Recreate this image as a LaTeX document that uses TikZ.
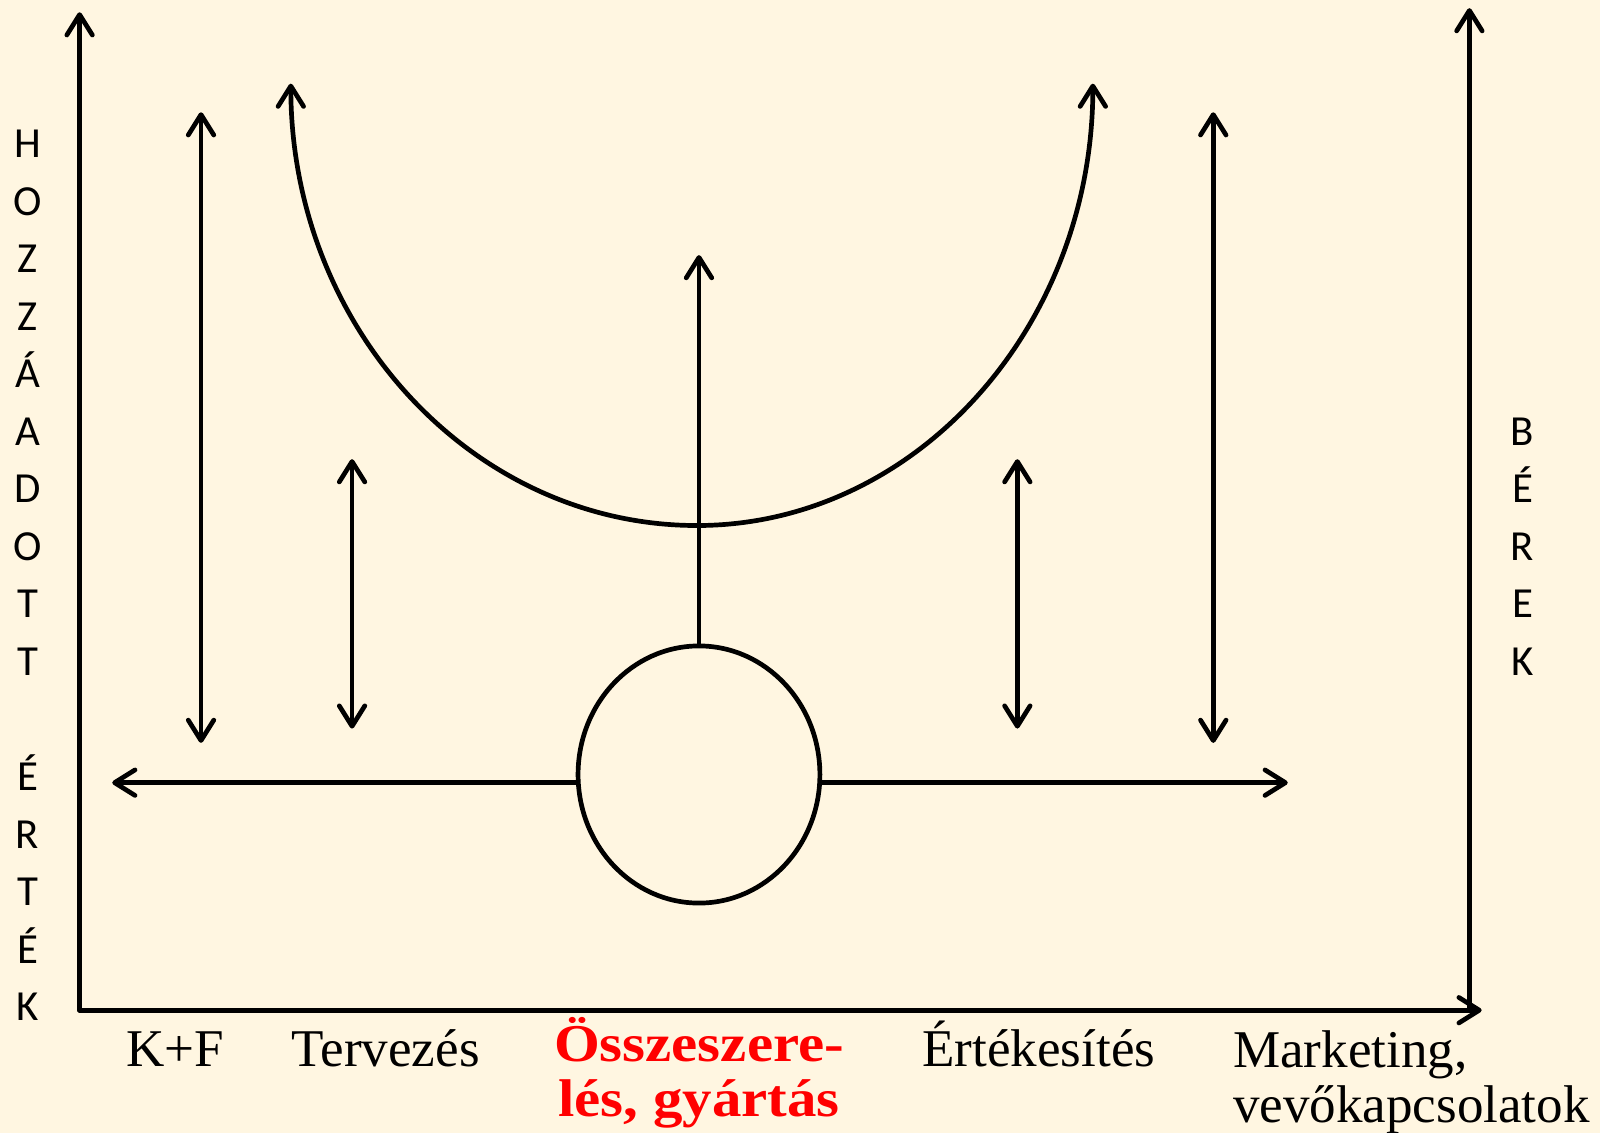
\documentclass[tikz,border=0pt]{standalone}
\usepackage{fontspec}
\setmainfont{Liberation Serif}
\newfontfamily\sidefont{Carlito}
\newfontfamily\widebold{Liberation Serif}[FakeStretch=1.11]
\usetikzlibrary{arrows.meta,shapes.geometric}
\definecolor{papercream}{RGB}{255,246,225}
\definecolor{stagered}{RGB}{255,0,0}
\tikzset{
  barbtip/.style={line width=2.3pt,line cap=round},
  oneway/.style={barbtip,-{Straight Barb[length=10pt,width=12.5pt,round]}},
  twoway/.style={barbtip,{Straight Barb[length=10pt,width=12.5pt,round]}-{Straight Barb[length=10pt,width=12.5pt,round]}},
  sidelabel/.style={font=\sidefont\fontsize{21}{28.2}\selectfont,align=center,inner sep=0pt,anchor=north},
  stagelabel/.style={font=\fontsize{26}{27}\selectfont,inner sep=0pt,anchor=base},
  hub/.style={draw,ellipse,line width=2.3pt,minimum width=118.5pt,minimum height=126pt,inner sep=0pt}
}
\begin{document}
\begin{tikzpicture}[x=0.5pt,y=-0.5pt]
  \fill[papercream] (0,0) rectangle (1568,1110);
  \useasboundingbox (0,0) rectangle (1568,1110);
  % axes
  \coordinate (origin) at (78,990);
  \coordinate (valuetop) at (78,12);
  \coordinate (xend) at (1452,990);
  \coordinate (wagebase) at (1440,990);
  \coordinate (wagetop) at (1440,8);
  \draw[oneway] (origin) -- (valuetop);
  \draw[oneway] (origin) -- (xend);
  \draw[oneway] (wagebase) -- (wagetop);
  \node[sidelabel] (addedvalue) at (27,127) {H\\O\\Z\\Z\\Á\\A\\D\\O\\T\\T\\\mbox{}\\É\\R\\T\\É\\K};
  \node[sidelabel] (wages) at (1492,409) {B\\É\\R\\E\\K};
  % smile curve
  \coordinate (smileL) at (285,82);
  \coordinate (smileB) at (683,515);
  \coordinate (smileR) at (1071,82);
  \draw[twoway] (smileL) .. controls (285,321) and (463,515) .. (smileB)
    .. controls (897,515) and (1071,321) .. (smileR);
  % assembly hub
  \node[hub] (assembly) at (685,759) {};
  \coordinate (hubtop) at (685,250);
  \coordinate (leftend) at (110,767);
  \coordinate (rightend) at (1262,767);
  \draw[oneway] (assembly) -- (hubtop);
  \draw[oneway] (assembly.west |- leftend) -- (leftend);
  \draw[oneway] (assembly.east |- rightend) -- (rightend);
  % value arrows
  \coordinate (rdtop) at (197,110);
  \coordinate (rdbot) at (197,728);
  \coordinate (designtop) at (345,450);
  \coordinate (designbot) at (345,714);
  \coordinate (salestop) at (997,450);
  \coordinate (salesbot) at (997,714);
  \coordinate (mktop) at (1189,110);
  \coordinate (mkbot) at (1189,728);
  \draw[twoway] (rdtop) -- (rdbot);
  \draw[twoway] (designtop) -- (designbot);
  \draw[twoway] (salestop) -- (salesbot);
  \draw[twoway] (mktop) -- (mkbot);
  % stage labels
  \node[stagelabel] (rd) at (172,1045) {K+F};
  \node[stagelabel] (design) at (378,1045) {Tervezés};
  \node[stagelabel,align=center,text=stagered,font=\widebold\fontsize{26}{27}\selectfont\bfseries]
    (production) at (685,1094) {Összeszere-\\lés, gyártás};
  \node[stagelabel] (sales) at (1018,1045) {Értékesítés};
  \node[stagelabel,align=left,anchor=base west] (marketing) at (1208,1100) {Marketing,\\vevőkapcsolatok};
\end{tikzpicture}
\end{document}
